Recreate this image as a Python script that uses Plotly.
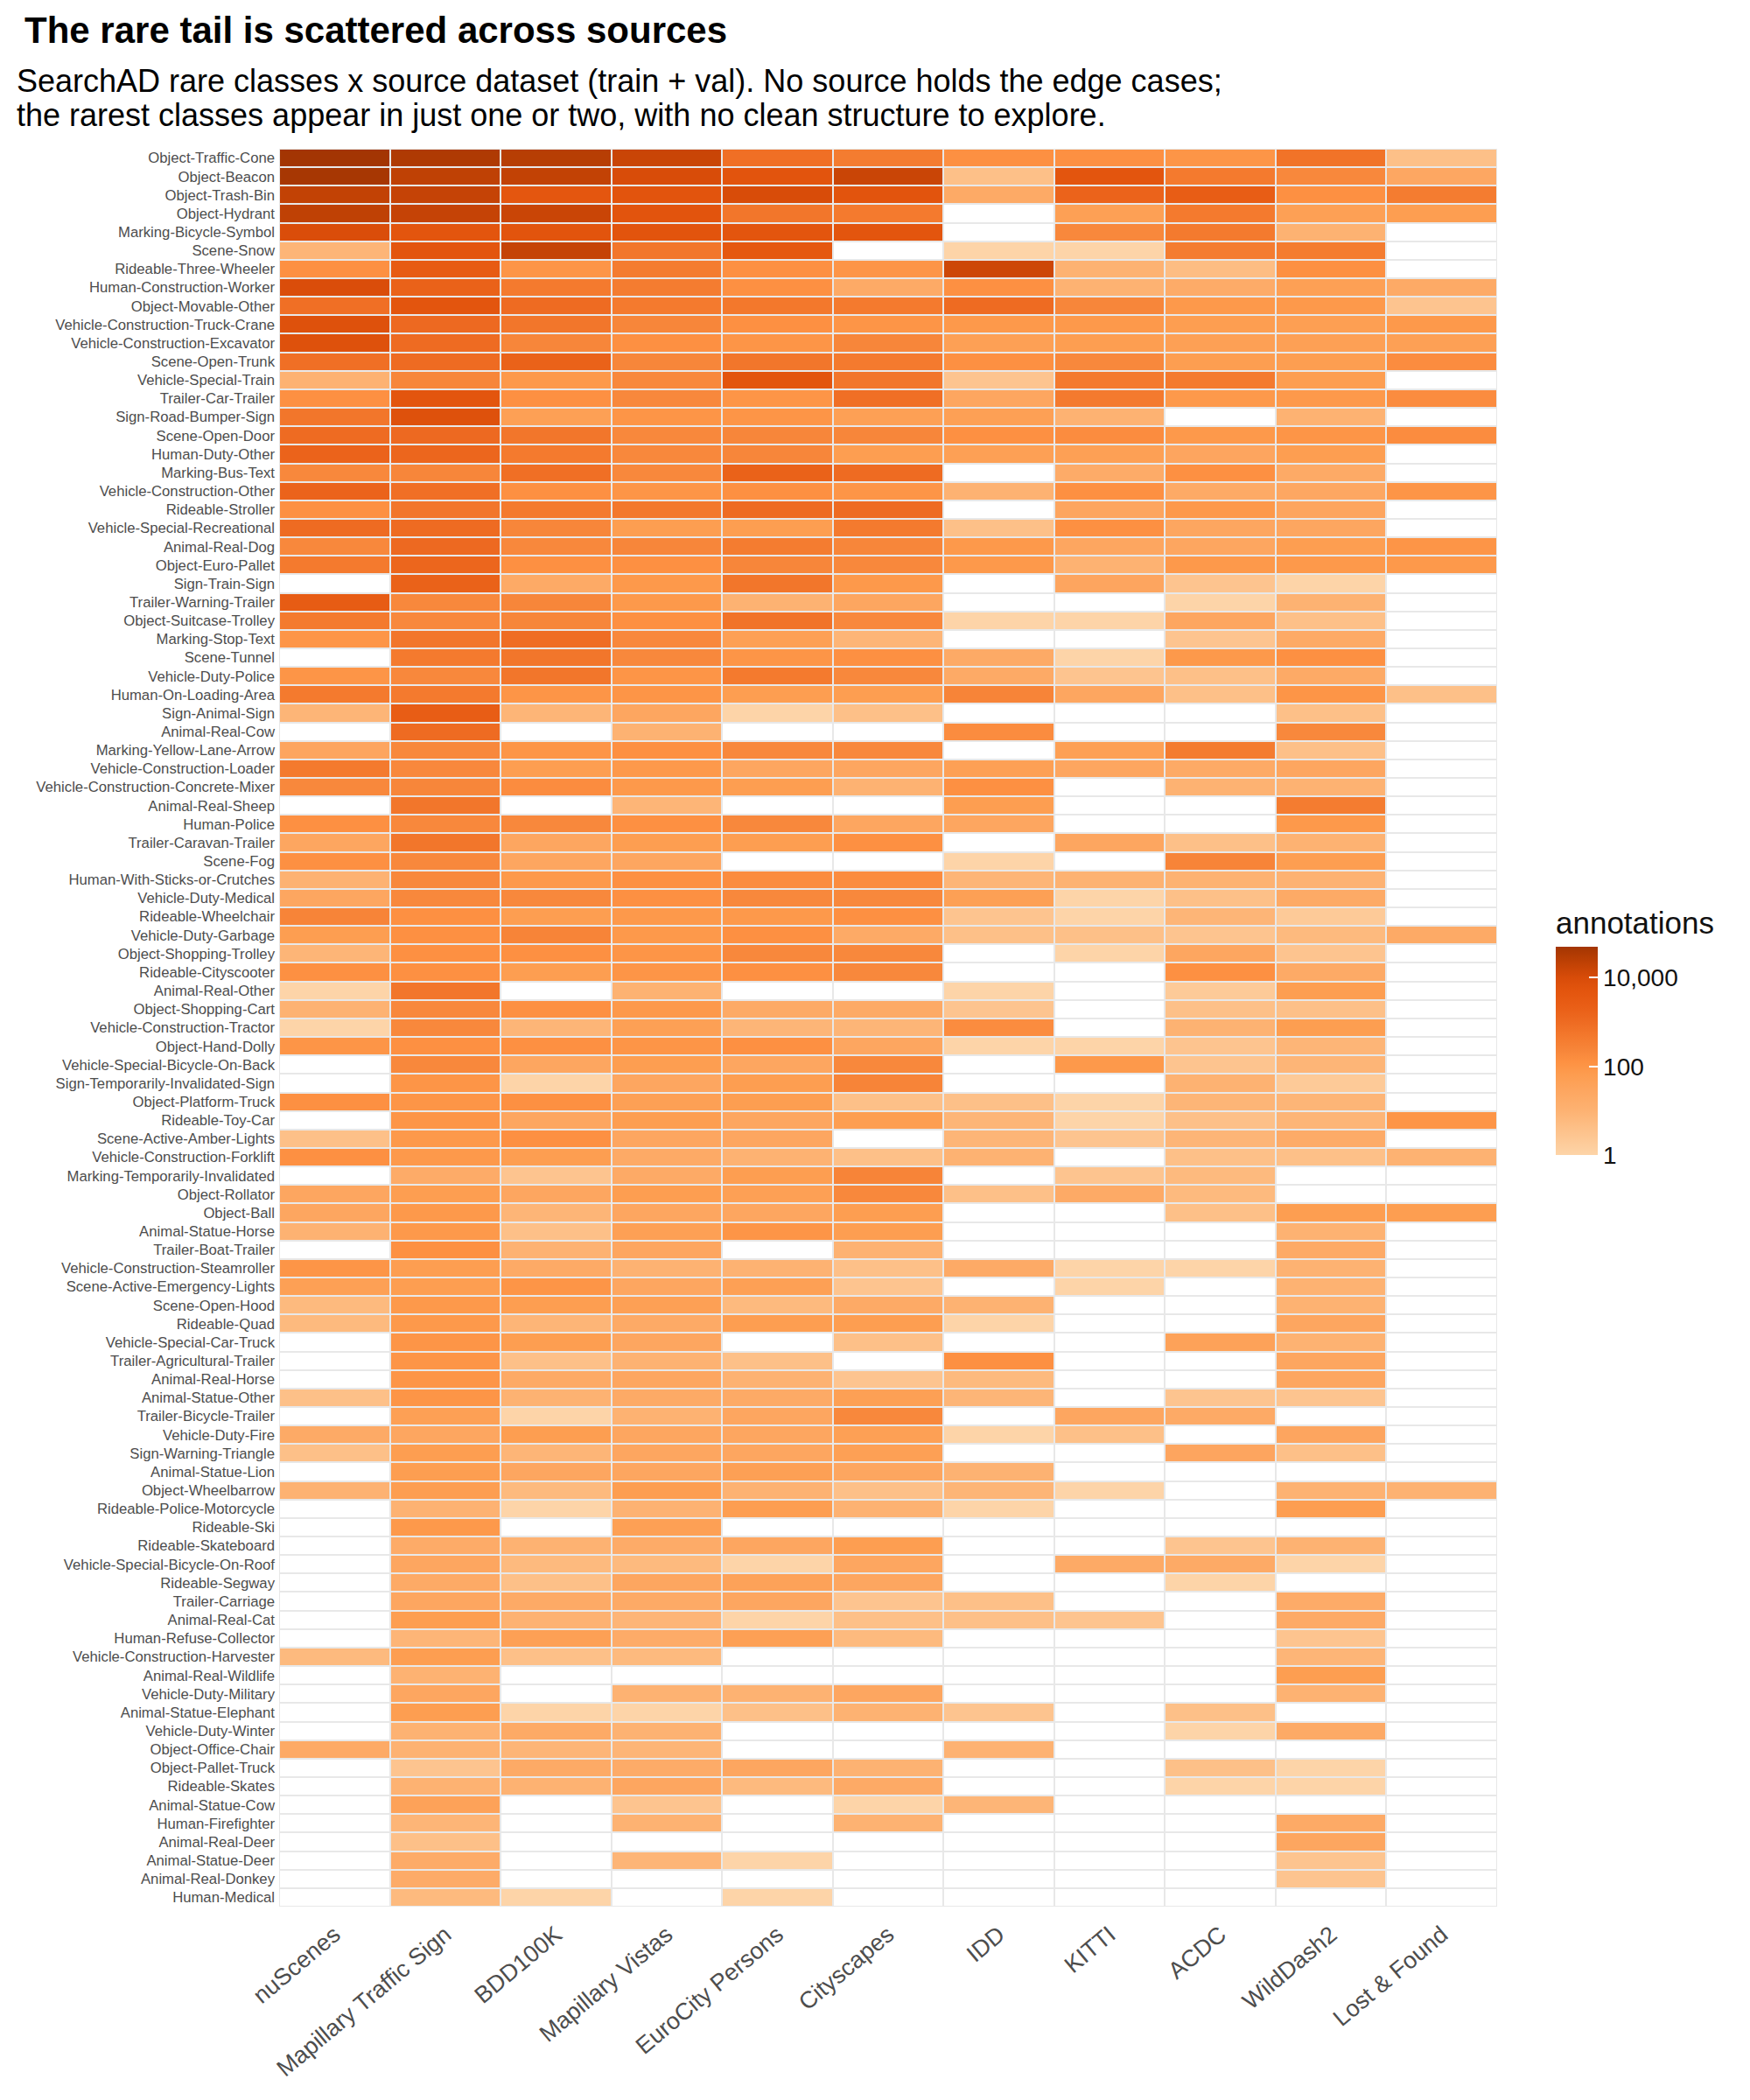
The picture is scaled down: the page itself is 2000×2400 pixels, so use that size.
import numpy as np
import plotly.graph_objects as go

# ---------------- data ----------------
classes = [
    "Object-Traffic-Cone", "Object-Beacon", "Object-Trash-Bin", "Object-Hydrant",
    "Marking-Bicycle-Symbol", "Scene-Snow", "Rideable-Three-Wheeler", "Human-Construction-Worker",
    "Object-Movable-Other", "Vehicle-Construction-Truck-Crane", "Vehicle-Construction-Excavator",
    "Scene-Open-Trunk", "Vehicle-Special-Train", "Trailer-Car-Trailer", "Sign-Road-Bumper-Sign",
    "Scene-Open-Door", "Human-Duty-Other", "Marking-Bus-Text", "Vehicle-Construction-Other",
    "Rideable-Stroller", "Vehicle-Special-Recreational", "Animal-Real-Dog", "Object-Euro-Pallet",
    "Sign-Train-Sign", "Trailer-Warning-Trailer", "Object-Suitcase-Trolley", "Marking-Stop-Text",
    "Scene-Tunnel", "Vehicle-Duty-Police", "Human-On-Loading-Area", "Sign-Animal-Sign",
    "Animal-Real-Cow", "Marking-Yellow-Lane-Arrow", "Vehicle-Construction-Loader",
    "Vehicle-Construction-Concrete-Mixer", "Animal-Real-Sheep", "Human-Police",
    "Trailer-Caravan-Trailer", "Scene-Fog", "Human-With-Sticks-or-Crutches", "Vehicle-Duty-Medical",
    "Rideable-Wheelchair", "Vehicle-Duty-Garbage", "Object-Shopping-Trolley", "Rideable-Cityscooter",
    "Animal-Real-Other", "Object-Shopping-Cart", "Vehicle-Construction-Tractor", "Object-Hand-Dolly",
    "Vehicle-Special-Bicycle-On-Back", "Sign-Temporarily-Invalidated-Sign", "Object-Platform-Truck",
    "Rideable-Toy-Car", "Scene-Active-Amber-Lights", "Vehicle-Construction-Forklift",
    "Marking-Temporarily-Invalidated", "Object-Rollator", "Object-Ball", "Animal-Statue-Horse",
    "Trailer-Boat-Trailer", "Vehicle-Construction-Steamroller", "Scene-Active-Emergency-Lights",
    "Scene-Open-Hood", "Rideable-Quad", "Vehicle-Special-Car-Truck", "Trailer-Agricultural-Trailer",
    "Animal-Real-Horse", "Animal-Statue-Other", "Trailer-Bicycle-Trailer", "Vehicle-Duty-Fire",
    "Sign-Warning-Triangle", "Animal-Statue-Lion", "Object-Wheelbarrow", "Rideable-Police-Motorcycle",
    "Rideable-Ski", "Rideable-Skateboard", "Vehicle-Special-Bicycle-On-Roof", "Rideable-Segway",
    "Trailer-Carriage", "Animal-Real-Cat", "Human-Refuse-Collector", "Vehicle-Construction-Harvester",
    "Animal-Real-Wildlife", "Vehicle-Duty-Military", "Animal-Statue-Elephant", "Vehicle-Duty-Winter",
    "Object-Office-Chair", "Object-Pallet-Truck", "Rideable-Skates", "Animal-Statue-Cow",
    "Human-Firefighter", "Animal-Real-Deer", "Animal-Statue-Deer", "Animal-Real-Donkey", "Human-Medical",
]

sources = ["nuScenes", "Mapillary Traffic Sign", "BDD100K", "Mapillary Vistas", "EuroCity Persons",
           "Cityscapes", "IDD", "KITTI", "ACDC", "WildDash2", "Lost & Found"]

# annotation counts per source (0 = class absent in that source), rows in `classes` order
nuscenes = [50000, 45000, 20000, 22000, 9000, 8, 130, 9000, 800, 7000, 7000, 800, 10, 130, 550, 1000,
            1600, 200, 1600, 130, 1000, 200, 450, 0, 2800, 450, 100, 0, 100, 450, 8, 0, 30, 450, 200,
            0, 130, 28, 130, 10, 28, 250, 60, 8, 130, 1, 10, 1, 100, 0, 0, 130, 0, 4, 130, 0, 28, 28,
            10, 0, 100, 50, 6, 6, 0, 0, 0, 4, 0, 20, 4, 0, 10, 0, 0, 0, 0, 0, 0, 0, 0, 6, 0, 0, 0, 0,
            20, 0, 0, 0, 0, 0, 0, 0, 0]
mapillary_ts = [35000, 22000, 18000, 18000, 5000, 5000, 3000, 1800, 5000, 1100, 1000, 1000, 220, 5000,
                7000, 1100, 1400, 220, 800, 550, 1000, 1100, 1400, 1800, 200, 200, 550, 450, 200, 450,
                2500, 1000, 200, 200, 220, 550, 200, 550, 200, 200, 200, 130, 130, 130, 130, 550, 200,
                200, 130, 200, 100, 100, 100, 80, 80, 18, 60, 80, 80, 130, 60, 60, 80, 80, 100, 100,
                100, 100, 50, 28, 60, 60, 60, 10, 80, 18, 28, 20, 28, 60, 8, 60, 10, 28, 60, 10, 10, 3,
                10, 40, 8, 4, 18, 18, 6]
bdd100k = [28000, 20000, 4500, 16000, 5500, 18000, 100, 450, 1000, 550, 220, 1800, 80, 130, 50, 550,
           450, 800, 130, 450, 220, 200, 130, 20, 220, 220, 900, 550, 550, 100, 8, 0, 100, 60, 160, 0,
           200, 28, 28, 80, 200, 60, 250, 130, 60, 0, 130, 8, 130, 28, 1, 130, 28, 130, 60, 3, 28, 8,
           4, 10, 20, 100, 60, 8, 60, 4, 20, 10, 1, 60, 8, 28, 6, 1, 0, 10, 6, 4, 20, 10, 50, 4, 0, 0,
           1, 20, 8, 20, 10, 0, 0, 0, 0, 0, 1]
mapillary_vistas = [16000, 10000, 5500, 5500, 5500, 550, 400, 400, 450, 220, 130, 220, 200, 200, 100,
                    200, 200, 200, 100, 500, 60, 220, 130, 80, 80, 130, 200, 200, 100, 100, 28, 10, 130,
                    80, 80, 8, 130, 60, 28, 130, 130, 80, 80, 100, 100, 10, 80, 50, 100, 60, 28, 50, 60,
                    28, 20, 20, 60, 28, 50, 28, 10, 28, 50, 20, 28, 10, 28, 20, 10, 28, 28, 28, 60, 10,
                    50, 18, 6, 28, 20, 8, 18, 6, 0, 10, 1, 10, 8, 18, 28, 3, 10, 0, 8, 0, 0]
eurocity = [800, 5500, 10000, 550, 5000, 4000, 130, 130, 500, 130, 100, 550, 5000, 100, 100, 220, 220,
            1800, 130, 1000, 60, 400, 220, 550, 10, 650, 50, 100, 450, 60, 1, 0, 200, 28, 60, 0, 200,
            60, 0, 160, 200, 80, 130, 200, 130, 0, 20, 8, 130, 28, 60, 60, 28, 28, 10, 60, 50, 28, 100,
            0, 10, 50, 6, 60, 0, 4, 10, 20, 28, 28, 28, 50, 10, 60, 0, 28, 1, 40, 28, 1, 50, 0, 0, 10,
            4, 0, 0, 28, 6, 0, 0, 0, 1, 0, 1]
cityscapes = [400, 16000, 5500, 450, 5000, 0, 100, 20, 450, 100, 220, 450, 550, 800, 50, 220, 60, 1000,
              100, 1000, 450, 220, 200, 80, 28, 200, 8, 130, 200, 60, 4, 0, 200, 28, 10, 0, 28, 130, 0,
              160, 200, 130, 20, 200, 200, 0, 20, 8, 28, 200, 250, 4, 60, 0, 4, 250, 200, 60, 60, 10, 4,
              3, 20, 60, 4, 0, 3, 50, 200, 50, 50, 28, 4, 10, 0, 60, 28, 28, 3, 4, 6, 0, 0, 28, 10, 0,
              0, 10, 20, 1, 10, 0, 0, 0, 0]
idd = [130, 4, 20, 0, 0, 1, 14000, 130, 1000, 80, 50, 130, 3, 28, 50, 130, 50, 0, 10, 0, 4, 80, 80, 0,
       0, 1, 0, 20, 20, 250, 0, 160, 0, 50, 130, 60, 28, 0, 1, 8, 50, 3, 4, 0, 0, 1, 3, 160, 1, 0, 0, 4,
       8, 8, 10, 0, 4, 0, 0, 0, 20, 0, 10, 1, 0, 130, 6, 8, 0, 1, 0, 10, 8, 1, 0, 0, 0, 0, 4, 4, 0, 0,
       0, 0, 3, 0, 10, 0, 0, 8, 0, 0, 0, 0, 0]
kitti = [130, 5000, 1600, 50, 200, 1, 10, 10, 220, 80, 60, 200, 450, 450, 10, 160, 50, 18, 130, 30, 130,
         28, 10, 30, 0, 1, 0, 1, 3, 28, 0, 0, 50, 28, 0, 0, 0, 28, 0, 10, 1, 1, 4, 1, 0, 0, 0, 0, 1, 80,
         0, 1, 1, 3, 0, 3, 20, 0, 0, 0, 1, 1, 0, 0, 0, 0, 0, 0, 28, 4, 0, 0, 1, 0, 0, 0, 20, 0, 0, 3, 0,
         0, 0, 0, 0, 0, 0, 0, 0, 0, 0, 0, 0, 0, 0]
acdc = [100, 450, 2500, 450, 450, 400, 5, 18, 80, 60, 50, 60, 450, 80, 0, 80, 30, 130, 20, 80, 28, 28,
        80, 3, 1, 28, 3, 80, 4, 4, 0, 0, 400, 20, 10, 0, 0, 4, 250, 10, 4, 8, 3, 28, 130, 2, 4, 10, 3, 3,
        10, 8, 4, 8, 4, 6, 6, 4, 0, 0, 1, 0, 0, 0, 40, 0, 0, 3, 20, 0, 30, 0, 0, 0, 0, 3, 20, 1, 0, 0,
        0, 0, 0, 0, 4, 1, 0, 4, 1, 0, 0, 0, 0, 0, 0]
wilddash2 = [650, 200, 130, 50, 10, 400, 130, 50, 80, 55, 50, 60, 60, 80, 10, 100, 60, 20, 25, 30, 28,
             60, 80, 1, 10, 4, 20, 130, 20, 100, 4, 200, 4, 28, 10, 400, 80, 10, 60, 10, 20, 2, 6, 3, 20,
             60, 4, 60, 8, 8, 2, 8, 8, 18, 4, 0, 0, 60, 10, 20, 10, 10, 10, 28, 10, 28, 28, 3, 0, 30, 4,
             0, 10, 60, 0, 10, 1, 0, 18, 20, 3, 8, 60, 10, 0, 20, 0, 1, 1, 0, 20, 28, 3, 3, 0]
lost_found = [4, 25, 400, 60, 0, 0, 0, 20, 3, 80, 50, 160, 0, 160, 0, 160, 0, 0, 100, 0, 0, 100, 80, 0,
              0, 0, 0, 0, 0, 4, 0, 0, 0, 0, 0, 0, 0, 0, 0, 0, 0, 0, 20, 0, 0, 0, 0, 0, 0, 0, 0, 0, 100,
              0, 10, 0, 0, 60, 0, 0, 0, 0, 0, 0, 0, 0, 0, 0, 0, 0, 0, 0, 10, 0, 0, 0, 0, 0, 0, 0, 0, 0,
              0, 0, 0, 0, 0, 0, 0, 0, 0, 0, 0, 0, 0]

colorbar_ticks = [1, 100, 10000]
colorbar_ticktext = ["1", "100", "10,000"]

# ---------------- build ----------------
counts = np.array([nuscenes, mapillary_ts, bdd100k, mapillary_vistas, eurocity, cityscapes,
                   idd, kitti, acdc, wilddash2, lost_found], dtype=float).T  # rows x sources
logz = np.where(counts > 0, np.log10(np.where(counts > 0, counts, 1)), np.nan)
zmax = float(np.nanmax(logz))
zlist = [[None if np.isnan(v) else float(v) for v in row] for row in logz]
custom = [[int(v) for v in row] for row in counts]

anchors = [(0.0, "#FDD4A8"), (0.6, "#FDC088"), (1.0, "#FDB272"), (1.45, "#FDA660"),
           (1.8, "#FD9D50"), (2.1, "#FD9142"), (2.35, "#F7863A"), (2.65, "#F47A2E"),
           (3.0, "#EE6B22"), (3.35, "#E95E16"), (3.7, "#E3550E"), (4.0, "#D84C09"),
           (4.3, "#C24205"), (4.5, "#B33C03"), (4.7, "#A33503")]
colorscale = [[min(a / zmax, 1.0), c] for a, c in anchors]
colorscale[-1][0] = 1.0

W, H = 2000, 2400
L, R, T, B = 319, 1711, 170, 2179
def px(xp):
    return (xp - L) / (R - L)
def py(yp):
    return (B - yp) / (B - T)

GAP = 2
fig = go.Figure()
# white base so absent cells show as white tiles with grey borders
fig.add_trace(go.Heatmap(
    x=sources, y=classes, z=[[0] * len(sources) for _ in classes],
    colorscale=[[0, "white"], [1, "white"]], showscale=False, hoverinfo="skip",
    xgap=GAP, ygap=GAP,
))
fig.add_trace(go.Heatmap(
    x=sources, y=classes, z=zlist, customdata=custom,
    zmin=0, zmax=zmax, colorscale=colorscale, xgap=GAP, ygap=GAP,
    hovertemplate="%{y}<br>%{x}: %{customdata}<extra></extra>",
    colorbar=dict(
        title=dict(text="annotations", side="top", font=dict(size=35, color="#111111")),
        tickvals=[float(np.log10(t)) for t in colorbar_ticks], ticktext=colorbar_ticktext,
        tickfont=dict(size=28, color="#111111"),
        ticks="inside", ticklen=10, tickcolor="white", tickwidth=1.5,
        thickness=48, thicknessmode="pixels", len=282, lenmode="pixels",
        x=px(1778), xanchor="left", xref="paper", y=py(1320), yanchor="bottom", yref="paper",
        outlinewidth=0, ypad=0, xpad=0,
    ),
))

fig.update_layout(
    width=W, height=H,
    margin=dict(l=L, r=W - R, t=T, b=H - B, pad=0),
    paper_bgcolor="white", plot_bgcolor="#E8E8E8",
    font=dict(family="Liberation Sans, Arial, sans-serif", color="#4D4D4D"),
    annotations=[
        dict(text="<b>The rare tail is scattered across sources</b>", xref="paper", yref="paper",
             x=px(26), y=py(34), xanchor="left", yanchor="middle", showarrow=False,
             font=dict(size=42, color="black")),
        dict(text="SearchAD rare classes x source dataset (train + val). No source holds the edge cases;",
             xref="paper", yref="paper", x=px(17), y=py(92), xanchor="left", yanchor="middle",
             showarrow=False, font=dict(size=36, color="black")),
        dict(text="the rarest classes appear in just one or two, with no clean structure to explore.",
             xref="paper", yref="paper", x=px(17), y=py(131), xanchor="left", yanchor="middle",
             showarrow=False, font=dict(size=36, color="black")),
    ],
)
fig.update_xaxes(tickangle=-40, tickfont=dict(size=27, color="#4D4D4D"), showgrid=False,
                 zeroline=False, ticks="", ticklabelstandoff=10, showline=False)
fig.update_yaxes(autorange="reversed", tickfont=dict(size=16.7, color="#4D4D4D"), showgrid=False,
                 zeroline=False, ticks="", ticklabelstandoff=4, showline=False)

fig.write_html("out.html")
